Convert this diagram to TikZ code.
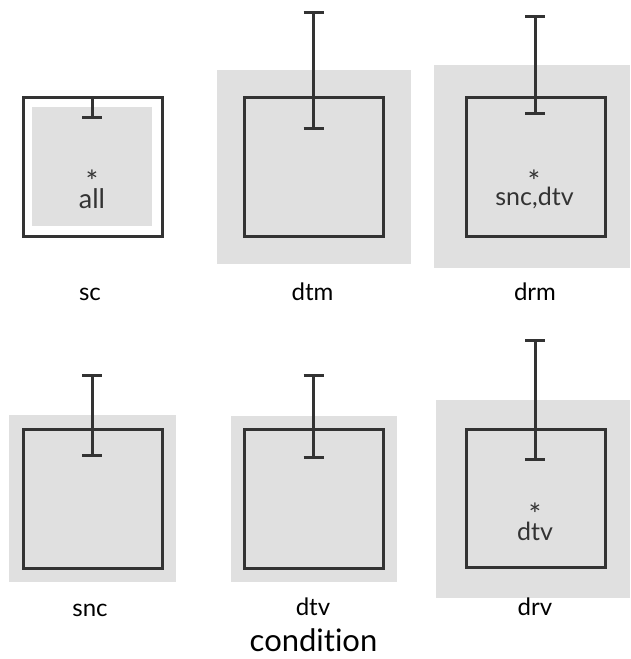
\documentclass[tikz,border=0pt]{standalone}
\usepackage{fontspec}
\setmainfont{Lato}[Ligatures={NoCommon,NoRare,NoDiscretionary},RawFeature={-liga;-dlig;-calt}]
\newcommand{\inkstar}{\raisebox{-0.40em}[0.32em][0pt]{*}}
\begin{document}
\begin{tikzpicture}[x=1pt,y=-1pt,
  graybg/.style={fill=bgray,draw=none},
  frame/.style={draw=dgray,line width=3pt},
  ebar/.style={draw=dgray,line width=3pt},
  lbl/.style={font=\fontsize{24}{28}\selectfont,text=black,inner sep=0pt,anchor=base},
  sig/.style={font=\fontsize{25}{30}\selectfont,text=dgray,inner sep=0pt,anchor=base},
  star/.style={font=\fontsize{30}{32}\selectfont,text=dgray,inner sep=0pt,anchor=center}]
\definecolor{bgray}{RGB}{224,224,224}
\definecolor{dgray}{RGB}{51,51,51}
\useasboundingbox (0,0) rectangle (630,659);
% ---------- panel sc
\path[graybg] (32,107) rectangle (152,226);
\draw[frame] (23,97) rectangle (162,236);
\coordinate (sct) at (92,97); \coordinate (scb) at (92,117);
\draw[ebar] (sct) -- (scb);
\draw[ebar] ([xshift=-10pt]sct) -- ([xshift=10pt]sct);
\draw[ebar] ([xshift=-10pt]scb) -- ([xshift=10pt]scb);
\node[star] (scs) at (92,176) {\inkstar};
\node[sig,font=\fontsize{27}{32}\selectfont] (sca) at (92,208) {all};
\node[lbl] (scl) at (90,300) {sc};
% ---------- panel dtm
\path[graybg] (217,70) rectangle (411,264);
\draw[frame] (244,97) rectangle (383,236);
\coordinate (dtmt) at (313.5,12.5); \coordinate (dtmb) at (313.5,128.5);
\draw[ebar] (dtmt) -- (dtmb);
\draw[ebar] ([xshift=-10pt]dtmt) -- ([xshift=10pt]dtmt);
\draw[ebar] ([xshift=-10pt]dtmb) -- ([xshift=10pt]dtmb);
\node[lbl] (dtml) at (312.5,300) {dtm};
% ---------- panel drm
\path[graybg] (434,65) rectangle (630,268);
\draw[frame] (466,97) rectangle (605,236.5);
\coordinate (drmt) at (535,16.5); \coordinate (drmb) at (535,113.5);
\draw[ebar] (drmt) -- (drmb);
\draw[ebar] ([xshift=-10pt]drmt) -- ([xshift=10pt]drmt);
\draw[ebar] ([xshift=-10pt]drmb) -- ([xshift=10pt]drmb);
\node[star] (drms) at (534,175.5) {\inkstar};
\node[sig] (drma) at (534.5,205) {snc,dtv};
\node[lbl] (drml) at (535,300) {drm};
% ---------- panel snc
\path[graybg] (9,415) rectangle (176,582);
\draw[frame] (23,429) rectangle (162,568);
\coordinate (snct) at (92.3,375.5); \coordinate (sncb) at (92.3,455.5);
\draw[ebar] (snct) -- (sncb);
\draw[ebar] ([xshift=-10pt]snct) -- ([xshift=10pt]snct);
\draw[ebar] ([xshift=-10pt]sncb) -- ([xshift=10pt]sncb);
\node[lbl] (sncl) at (90,616) {snc};
% ---------- panel dtv
\path[graybg] (231,416) rectangle (397,582);
\draw[frame] (244,429.5) rectangle (383,568);
\coordinate (dtvt) at (313.7,375); \coordinate (dtvb) at (313.7,457);
\draw[ebar] (dtvt) -- (dtvb);
\draw[ebar] ([xshift=-10pt]dtvt) -- ([xshift=10pt]dtvt);
\draw[ebar] ([xshift=-10pt]dtvb) -- ([xshift=10pt]dtvb);
\node[lbl] (dtvl) at (313,615) {dtv};
% ---------- panel drv
\path[graybg] (436,400) rectangle (630,598);
\draw[frame] (466,429) rectangle (605,567.5);
\coordinate (drvt) at (535,340.5); \coordinate (drvb) at (535,459.5);
\draw[ebar] (drvt) -- (drvb);
\draw[ebar] ([xshift=-10pt]drvt) -- ([xshift=10pt]drvt);
\draw[ebar] ([xshift=-10pt]drvb) -- ([xshift=10pt]drvb);
\node[star] (drvs) at (535,509) {\inkstar};
\node[sig] (drva) at (535,540.5) {dtv};
\node[lbl] (drvl) at (535,615) {drv};
% ---------- axis title
\node[lbl,font=\fontsize{31}{36}\selectfont] (cond) at (313.5,651.5) {condition};
\end{tikzpicture}
\end{document}
